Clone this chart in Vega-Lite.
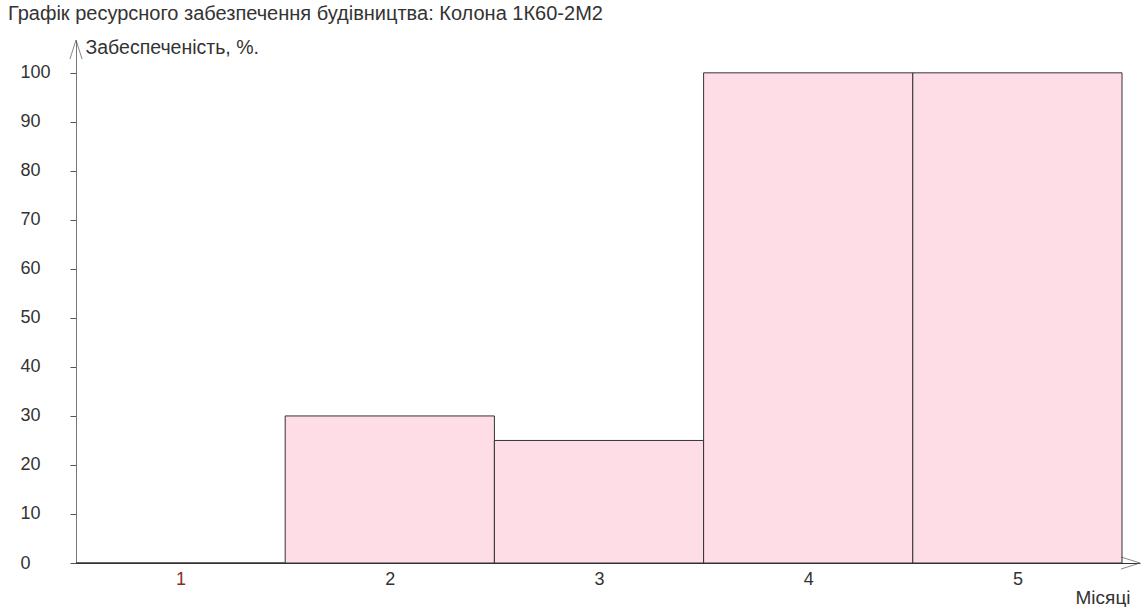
{
  "$schema": "https://vega.github.io/schema/vega-lite/v6.json",
  "width": 1064,
  "height": 523,
  "autosize": {"type": "none"},
  "padding": {"left": 76, "top": 40, "right": 1, "bottom": 44},
  "background": "white",
  "config": {
    "view": {"stroke": null},
    "font": "Liberation Sans",
    "axis": {"grid": false}
  },
  "title": {
    "text": "Графік ресурсного забезпечення будівництва: Колона 1К60-2М2",
    "anchor": "start",
    "frame": "group",
    "dx": -68,
    "offset": 13,
    "fontSize": 20,
    "fontWeight": "normal",
    "color": "#333333",
    "font": "Liberation Sans"
  },
  "layer": [
    {
      "data": {
        "values": [
          {"month": 1, "value": 0},
          {"month": 2, "value": 30},
          {"month": 3, "value": 25},
          {"month": 4, "value": 100},
          {"month": 5, "value": 100}
        ]
      },
      "mark": {"type": "bar", "width": 209.2, "fill": "#ffdde7", "stroke": "#333333", "strokeWidth": 1},
      "encoding": {
        "x": {
          "field": "month",
          "type": "quantitative",
          "scale": {"domain": [0.5, 5.586], "nice": false, "zero": false, "padding": 0},
          "axis": {
            "values": [1, 2, 3, 4, 5],
            "format": "d",
            "ticks": false,
            "labelPadding": 7,
            "labelFontSize": 18,
            "labelColor": {"condition": {"test": "datum.value == 1", "value": "#8b2a2a"}, "value": "#333333"},
            "domainColor": "#333333",
            "title": "Місяці",
            "titleFontSize": 19,
            "titleFontWeight": "normal",
            "titleColor": "#333333",
            "titleAlign": "right",
            "titleAnchor": null,
            "titleX": 1054,
            "titleY": 34,
            "titleBaseline": "middle"
          }
        },
        "y": {
          "field": "value",
          "type": "quantitative",
          "scale": {"domain": [0, 106.7], "nice": false, "padding": 0},
          "axis": {
            "values": [0, 10, 20, 30, 40, 50, 60, 70, 80, 90, 100],
            "tickSize": 6,
            "tickColor": "#555555",
            "labelAlign": "left",
            "labelPadding": 50,
            "labelFontSize": 18,
            "labelColor": "#333333",
            "domainColor": "#777777",
            "title": "Забеспеченість, %.",
            "titleFontSize": 19.5,
            "titleFontWeight": "normal",
            "titleColor": "#333333",
            "titleAngle": 0,
            "titleAlign": "left",
            "titleAnchor": null,
            "titleX": 9,
            "titleY": 7,
            "titleBaseline": "middle"
          }
        }
      }
    },
    {
      "data": {"values": [{"ax": "y", "x": 0.5, "y": 106.7}]},
      "mark": {"type": "point", "shape": "M-0.7,2.2L0,0L0.7,2.2", "size": 300, "filled": false, "stroke": "#555555", "strokeWidth": 1},
      "encoding": {
        "x": {"field": "x", "type": "quantitative", "scale": {"zero": false}},
        "y": {"field": "y", "type": "quantitative"}
      }
    },
    {
      "data": {"values": [{"ax": "x", "x": 5.586, "y": 0}]},
      "mark": {"type": "point", "shape": "M-2.2,-0.7L0,0L-2.2,0.7", "size": 300, "filled": false, "stroke": "#555555", "strokeWidth": 1},
      "encoding": {
        "x": {"field": "x", "type": "quantitative", "scale": {"zero": false}},
        "y": {"field": "y", "type": "quantitative"}
      }
    }
  ]
}
